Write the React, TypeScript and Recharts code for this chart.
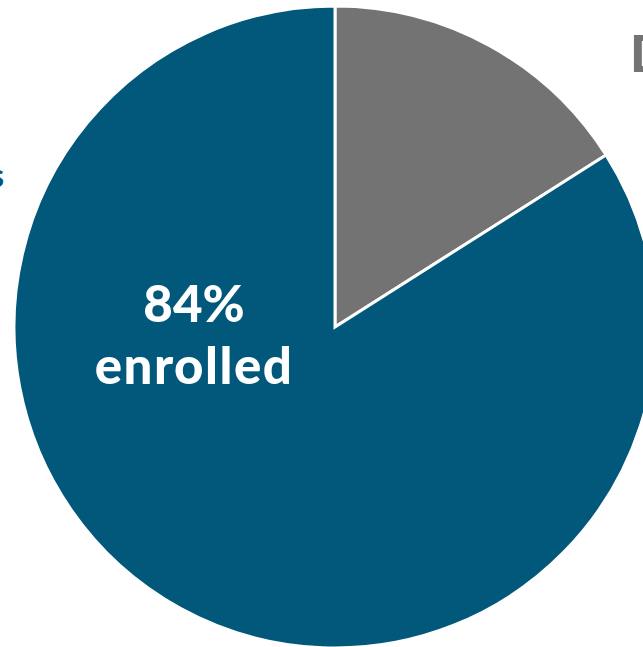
import { Cell, Pie, PieChart } from "recharts";

const categories = ["Did not enroll", "enrolled"];
const shares = [16, 84];
const colors = ["#737373", "#02587a"];

const data = categories.map((name, i) => ({ name, value: shares[i], color: colors[i] }));

const font = "Lato, 'Open Sans', sans-serif";

function renderLabel(props: any) {
  const { cx, cy, index, payload } = props;
  if (index === 0) {
    return (
      <text
        x={cx + 295}
        y={cy - 255}
        textAnchor="start"
        fill={payload.color}
        fontFamily={font}
        fontWeight={900}
        fontSize={52}
      >
        {payload.name}
      </text>
    );
  }
  return (
    <g>
      <text
        x={cx - 141}
        y={cy - 5}
        textAnchor="middle"
        fill="#ffffff"
        fontFamily={font}
        fontWeight={900}
        fontSize={51}
      >
        {`${payload.value}%`}
      </text>
      <text
        x={cx - 141}
        y={cy + 57}
        textAnchor="middle"
        fill="#ffffff"
        fontFamily={font}
        fontWeight={900}
        fontSize={51}
        letterSpacing={1.5}
      >
        {payload.name}
      </text>
      <text
        x={4}
        y={cy - 140}
        textAnchor="end"
        fill={payload.color}
        fontFamily={font}
        fontWeight={700}
        fontSize={32}
      >
        Participants
      </text>
    </g>
  );
}

export default function App() {
  return (
    <div style={{ position: "fixed", left: 0, top: 0, width: 643, height: 647, background: "#ffffff" }}>
      <PieChart width={643} height={647} margin={{ top: 0, right: 0, bottom: 0, left: 0 }}>
        <Pie
          data={data}
          dataKey="value"
          nameKey="name"
          cx={335}
          cy={327}
          outerRadius={321}
          startAngle={90}
          endAngle={-270}
          stroke="#ffffff"
          strokeWidth={3}
          label={renderLabel}
          labelLine={false}
          isAnimationActive={false}
        >
          {data.map((d) => (
            <Cell key={d.name} fill={d.color} />
          ))}
        </Pie>
      </PieChart>
    </div>
  );
}
